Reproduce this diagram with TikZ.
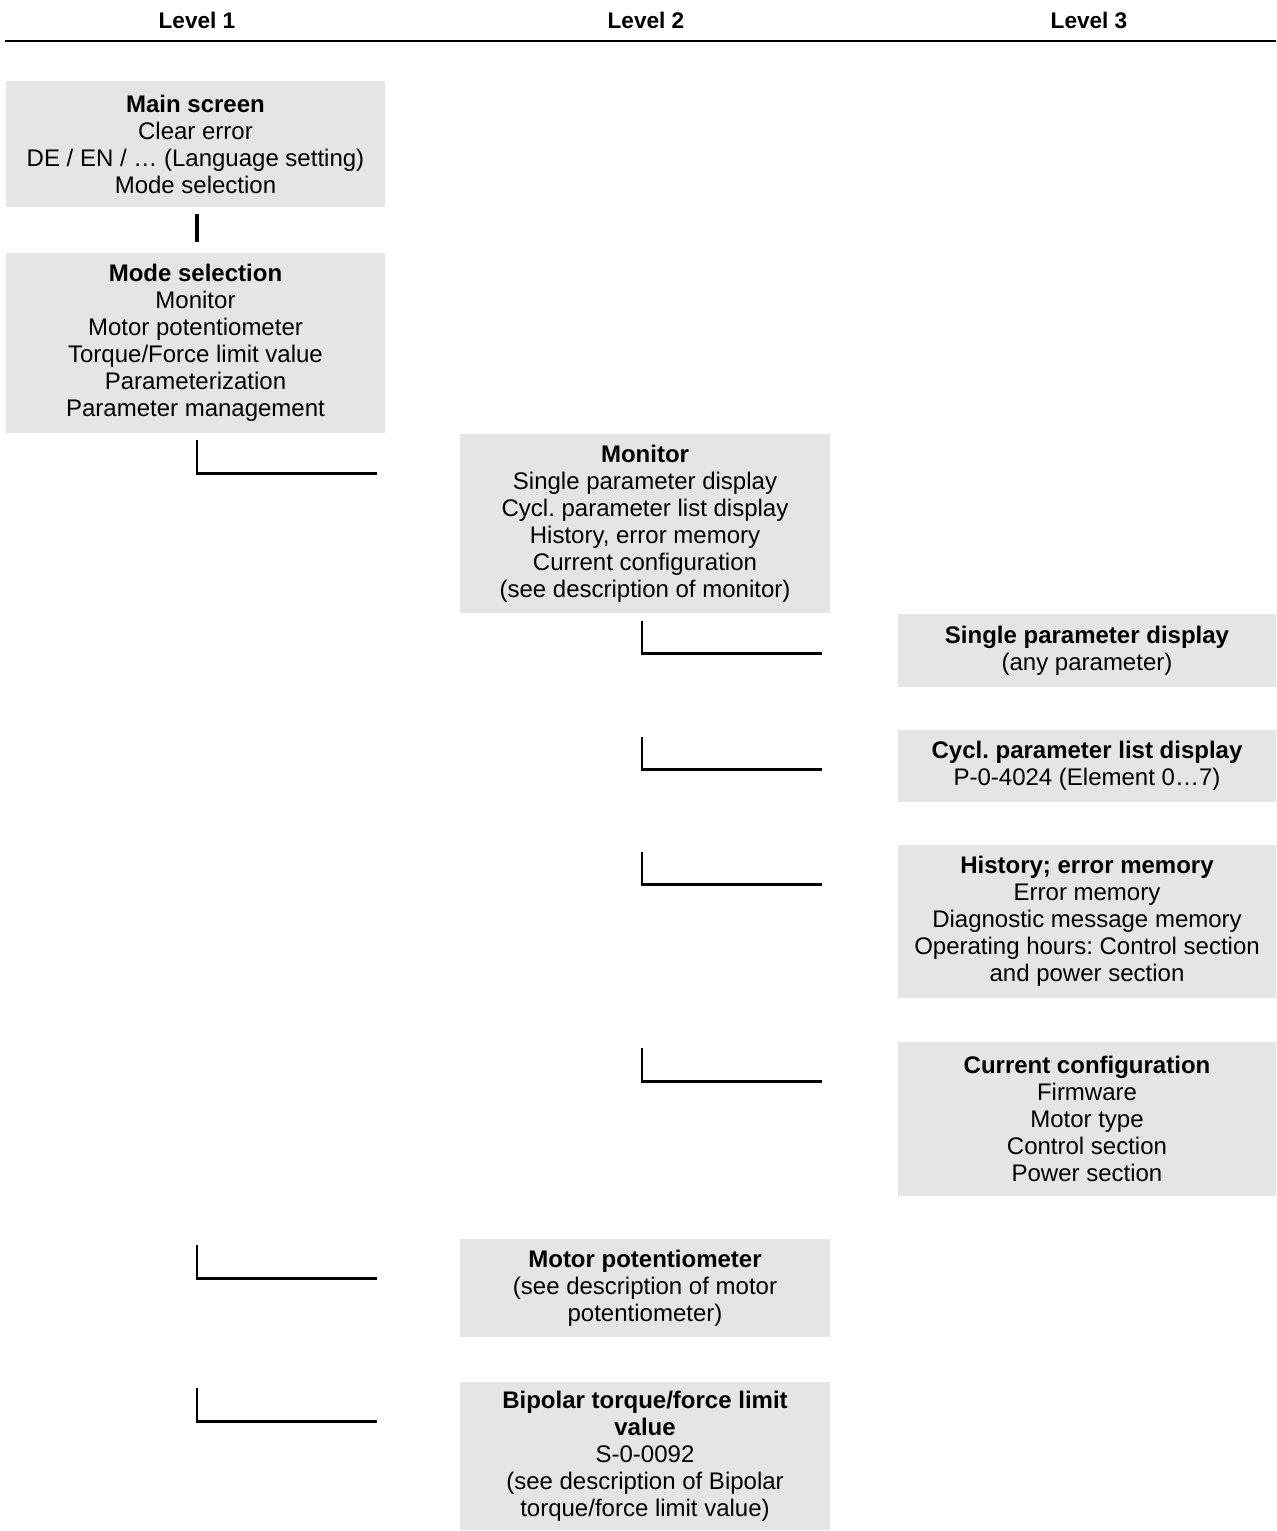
\documentclass[tikz,border=0pt]{standalone}
\usepackage{fontspec}
\setmainfont{Liberation Sans}
\usetikzlibrary{calc}
\definecolor{boxfill}{HTML}{E5E5E5}
\frenchspacing

\begin{document}
\begin{tikzpicture}[
  x=0.5pt,y=-0.5pt,
  bx/.style={fill=boxfill,inner sep=0pt,align=center,
             font=\fontsize{12}{13.5}\selectfont},
  l1/.style={bx,minimum width=189.5pt},
  l2/.style={bx,minimum width=185pt},
  l3/.style={bx,minimum width=189pt},
  hd/.style={font=\fontsize{11.3}{13}\selectfont\bfseries},
  ln/.style={draw=black,line width=1.2pt},
  bar/.style={draw=black,line width=2pt}]
\useasboundingbox (0,0) rectangle (1276,1531);
% header
\node[hd] (lv1) at (197,20)  {Level 1};
\node[hd] (lv2) at (646,20)  {Level 2};
\node[hd] (lv3) at (1089,20) {Level 3};
\draw[line width=1pt] (5,41) -- (1276,41);
% level 1
\node[l1,minimum height=63pt] (main) at (195.5,144)
  {\textbf{Main screen}\\Clear error\\DE / EN / … (Language setting)\\Mode selection};
\node[l1,minimum height=90pt] (mode) at (195.5,343)
  {\textbf{Mode selection}\\Monitor\\Motor potentiometer\\Torque/Force limit value\\Parameterization\\Parameter management};
% level 2
\node[l2,minimum height=89.5pt] (mon) at (645,523.5)
  {\textbf{Monitor}\\Single parameter display\\Cycl. parameter list display\\History, error memory\\Current configuration\\(see description of monitor)};
\node[l2,minimum height=49pt] (mpot) at (645,1288)
  {\textbf{Motor potentiometer}\\(see description of motor\\potentiometer)};
\node[l2,minimum height=74pt] (bip) at (645,1456)
  {\textbf{Bipolar torque/force limit}\\\textbf{value}\\S-0-0092\\(see description of Bipolar\\torque/force limit value)};
% level 3
\node[l3,minimum height=36.5pt] (single) at (1087,650.5)
  {\textbf{Single parameter display}\\(any parameter)};
\node[l3,minimum height=36pt] (cycl) at (1087,766)
  {\textbf{Cycl. parameter list display}\\P-0-4024 (Element 0…7)};
\node[l3,minimum height=76.5pt] (hist) at (1087,921.5)
  {\textbf{History; error memory}\\Error memory\\Diagnostic message memory\\Operating hours: Control section\\and power section};
\node[l3,minimum height=77pt] (conf) at (1087,1119)
  {\textbf{Current configuration}\\Firmware\\Motor type\\Control section\\Power section};
% connectors
\draw[bar] ($(main.south)+(1.5,7)$) -- ($(mode.north)+(1.5,-11)$);
\draw[ln] ($(mode.south)+(1.5,7)$) |- ($(mon.north west)+(-83,40)$);
\draw[ln] ($(mode.south |- mpot.north)+(1.5,6)$) |- ($(mpot.north west)+(-83,40)$);
\draw[ln] ($(mode.south |- bip.north)+(1.5,6)$) |- ($(bip.north west)+(-83,40)$);
\draw[ln] ($(mon.south)+(-3,8)$) |- ($(single.north west)+(-76,40)$);
\draw[ln] ($(mon.south |- cycl.north)+(-3,7)$) |- ($(cycl.north west)+(-76,40)$);
\draw[ln] ($(mon.south |- hist.north)+(-3,7)$) |- ($(hist.north west)+(-76,40)$);
\draw[ln] ($(mon.south |- conf.north)+(-3,6)$) |- ($(conf.north west)+(-76,40)$);
\end{tikzpicture}
\end{document}
